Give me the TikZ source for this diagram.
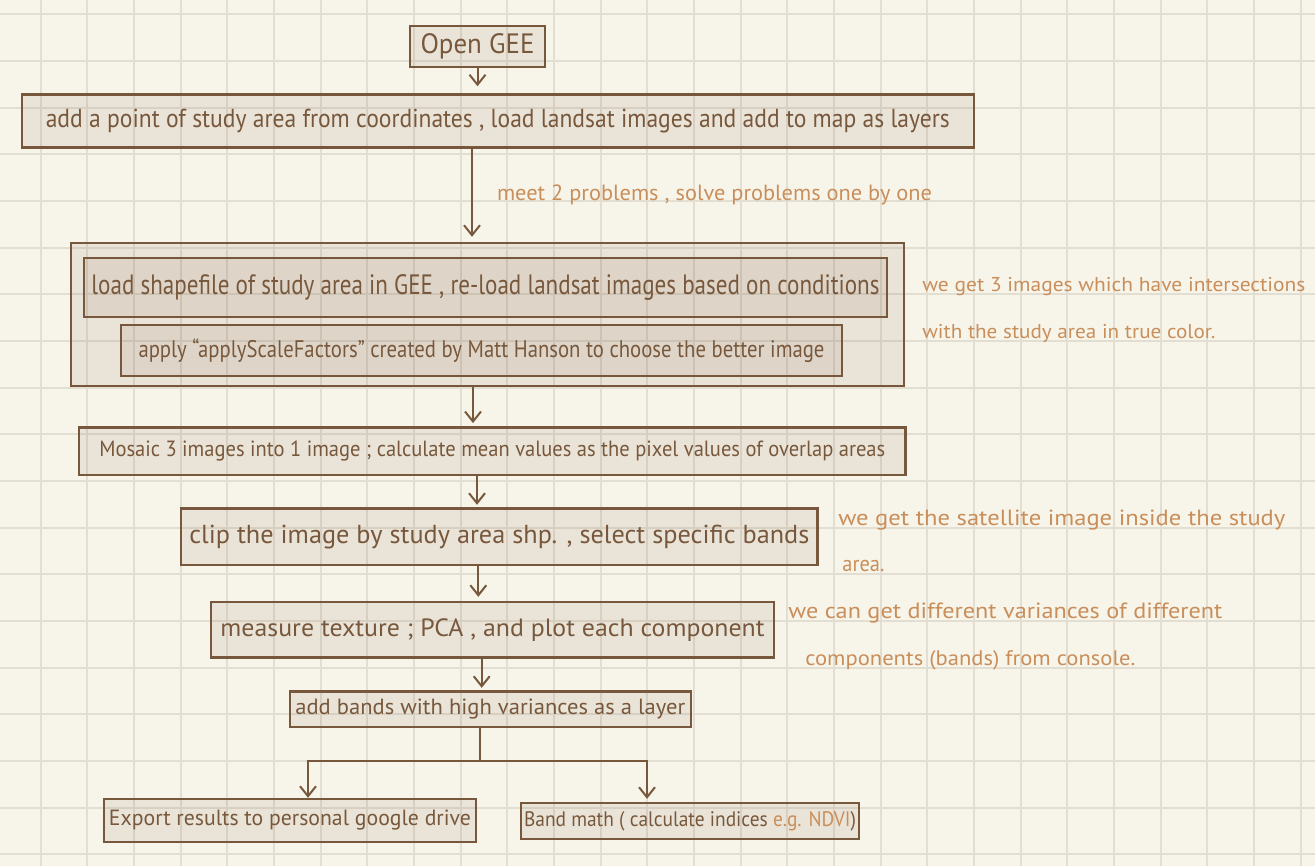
\documentclass[tikz,border=0pt]{standalone}
\usepackage{fontspec}
\setmainfont{PT Sans}
\usetikzlibrary{arrows.meta}
\definecolor{paper}{RGB}{247,245,234}
\definecolor{gridline}{RGB}{226,222,210}
\definecolor{ink}{RGB}{120,88,60}
\definecolor{notecol}{RGB}{201,142,90}
\newcommand{\fitw}[2]{\resizebox{#1}{\height}{#2}}
\begin{document}
\begin{tikzpicture}[x=0.5pt,y=-0.5pt,>={Straight Barb[length=5pt,width=8pt]},
  box/.style={draw=ink,line width=1.2pt,fill=ink,fill opacity=0.1,text opacity=1,text=ink,inner sep=0pt},
  remark/.style={text=notecol,anchor=west,inner sep=0pt},
  flow/.style={->,draw=ink,line width=1pt},
  link/.style={draw=ink,line width=1pt}]
  % paper
  \fill[paper] (0,0) rectangle (1315,866);
  \useasboundingbox (0,0) rectangle (1315,866);
  \foreach \k in {0,...,27} \draw[gridline,line width=1pt] ({40.7+46.67*\k},0) -- ++(0,866);
  \foreach \k in {0,...,18} \draw[gridline,line width=1pt] (0,{14.3+46.67*\k}) -- ++(1315,0);
  % boxes
  \node[box,minimum width=67.5pt,minimum height=20.5pt,font=\fontsize{14}{16}\selectfont] (open) at (477.5,46.5) {\fitw{57pt}{Open GEE}};
  \node[box,minimum width=476pt,minimum height=26.5pt,font=\fontsize{13}{15}\selectfont] (load) at (497.8,121) {\fitw{452pt}{add a point of study area from coordinates , load landsat images and add to map as layers}};
  \node[box,minimum width=416.5pt,minimum height=71.5pt] (group) at (487.3,314.5) {};
  \node[box,minimum width=401.5pt,minimum height=29.5pt,font=\fontsize{14}{16}\selectfont] (shape) at (485.5,287.5) {\fitw{394pt}{load shapefile of study area in GEE , re-load landsat images based on conditions}};
  \node[box,minimum width=360.5pt,minimum height=25.5pt,font=\fontsize{12}{14}\selectfont] (scale) at (481.5,350.5) {\fitw{343pt}{apply “applyScaleFactors” created by Matt Hanson to choose the better image}};
  \node[box,minimum width=413.3pt,minimum height=23.9pt,font=\fontsize{11}{13}\selectfont] (mosaic) at (492.3,451.2) {\fitw{393pt}{Mosaic 3 images into 1 image ; calculate mean values as the pixel values of overlap areas}};
  \node[box,minimum width=318.3pt,minimum height=28.2pt,font=\fontsize{13}{15}\selectfont] (clip) at (499.3,536.8) {\fitw{310pt}{clip the image by study area shp. , select specific bands}};
  \node[box,minimum width=281.5pt,minimum height=27.8pt,font=\fontsize{12.5}{15}\selectfont] (pca) at (492.5,629.8) {\fitw{272pt}{measure texture ; PCA , and plot each component}};
  \node[box,minimum width=200.6pt,minimum height=17.7pt,font=\fontsize{11}{13}\selectfont] (layer) at (490.3,709.3) {\fitw{195pt}{add bands with high variances as a layer}};
  \node[box,minimum width=186pt,minimum height=21.5pt,font=\fontsize{11}{13}\selectfont] (export) at (290,820.5) {\fitw{181pt}{Export results to personal google drive}};
  \node[box,minimum width=169pt,minimum height=18pt,font=\fontsize{10.5}{13}\selectfont] (bandmath) at (690,821) {\fitw{166pt}{Band math ( calculate indices \textcolor{notecol}{e.g. NDVI})}};
  % remarks
  \node[remark,font=\fontsize{10}{12}\selectfont] (img3a) at (922,287) {\fitw{191.5pt}{we get 3 images which have intersections}};
  \node[remark,font=\fontsize{10}{12}\selectfont] (img3b) at (922,333) {\fitw{146.5pt}{with the study area in true color.}};
  \node[remark,font=\fontsize{11}{13}\selectfont] (sat1) at (838,520) {\fitw{223.5pt}{we get the satellite image inside the study}};
  \node[remark,font=\fontsize{11}{13}\selectfont] (sat2) at (842,566) {\fitw{21pt}{area.}};
  \node[remark,font=\fontsize{11}{13}\selectfont] (var1) at (788,613) {\fitw{217pt}{we can get different variances of different}};
  \node[remark,font=\fontsize{10.5}{13}\selectfont] (var2) at (805,660) {\fitw{165pt}{components (bands) from console.}};
  % arrows
  \draw[flow,shorten >=3.5pt] (open.south) -- (open.south |- load.north);
  \draw[flow,shorten >=2.5pt] ([xshift=-12.9pt]load.south) -- ([xshift=-12.9pt]load.south |- group.north)
    node[remark,midway,right=12pt,font=\fontsize{11}{13}\selectfont] (meet) {\fitw{217.5pt}{meet 2 problems , solve problems one by one}};
  \draw[flow,shorten >=1.5pt] ([xshift=-7.15pt]group.south) -- ([xshift=-7.15pt]group.south |- mosaic.north);
  \draw[flow,shorten >=1.3pt] ([xshift=-7.65pt]mosaic.south) -- ([xshift=-7.65pt]mosaic.south |- clip.north);
  \draw[flow,shorten >=2pt] ([xshift=-10.5pt]clip.south) -- ([xshift=-10.5pt]clip.south |- pca.north);
  \draw[flow,shorten >=1.3pt] ([xshift=-5.4pt]pca.south) -- ([xshift=-5.4pt]pca.south |- layer.north);
  % split
  \draw[link] ([xshift=-5.15pt]layer.south) -- ++(0,33) coordinate (split);
  \draw[flow] (split) -| ([xshift=9pt]export.north);
  \draw[flow,shorten >=1.5pt] (split) -| ([xshift=-21.5pt]bandmath.north);
\end{tikzpicture}
\end{document}
